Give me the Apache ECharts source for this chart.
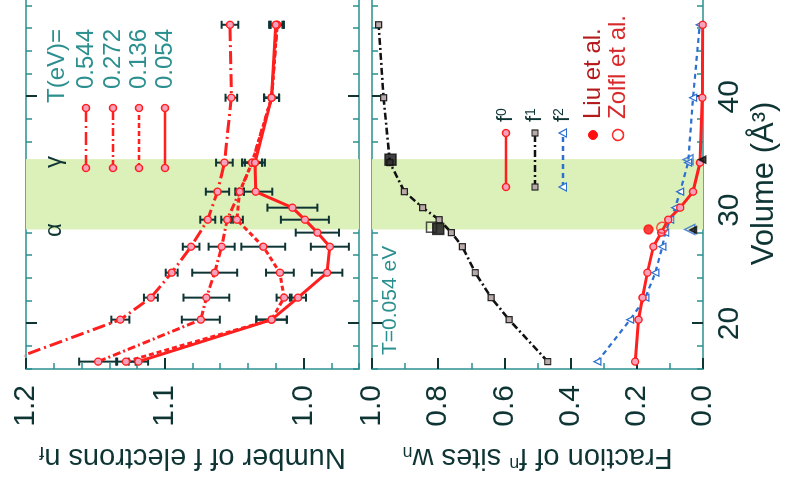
<!DOCTYPE html>
<html>
<head>
<meta charset="utf-8">
<script src="https://cdn.jsdelivr.net/npm/echarts@6/dist/echarts.min.js"></script>
<style>
  html, body { margin: 0; padding: 0; background: #fff; overflow: hidden; width: 789px; height: 485px; }
  /* the figure is laid out upright (485 x 789) and turned a quarter turn counter-clockwise */
  #chart { position: absolute; width: 485px; height: 789px; left: 152px; top: -152px;
           transform: rotate(-90deg); transform-origin: 50% 50%; }
</style>
</head>
<body>
<div id="chart"></div>
<script>
// ---- volumes (Å^3) ----
const volumes      = [16.65, 20.35, 22.29, 24.49, 26.78, 29.16, 31.63, 34.19, 39.91, 46.34];
const volumesLowT  = [16.65, 20.35, 22.29, 24.49, 26.78, 28.02, 29.16, 30.22, 31.63, 34.19, 39.91, 46.34];

// ---- number of f electrons n_f, with error bars ----
const nf544  = [1.214, 1.132, 1.110, 1.095, 1.081, 1.069, 1.062, 1.057, 1.052, 1.053];
const err544 = [0.007, 0.0065, 0.005, 0.0043, 0.006, 0.0054, 0.0084, 0.006, 0.0042, 0.006];
const nf272  = [1.148, 1.074, 1.070, 1.064, 1.059, 1.055, 1.046, 1.037, 1.023, 1.019];
const err272 = [0.0137, 0.0137, 0.0165, 0.0162, 0.0094, 0.0043, 0.003, 0.0072, 0.0054, 0.0048];
const nf136  = [1.128, 1.023, 1.014, 1.017, 1.029, 1.048, 1.046, 1.037, 1.023, 1.019];
const err136 = [0.007, 0.011, 0.0054, 0.010, 0.0158, 0.0043, 0.003, 0.0072, 0.0054, 0.0048];
const nf054  = [1.119, 1.023, 1.004, 0.983, 0.981, 0.990, 0.999, 1.008, 1.0345, 1.035, 1.023, 1.020];
const err054 = [0.007, 0.011, 0.0058, 0.011, 0.0137, 0.0156, 0.0173, 0.018, 0.012, 0.0072, 0.0054, 0.0048];
const tempLabels = ['0.544', '0.272', '0.136', '0.054'];

// ---- fractions of f^n sites at T = 0.054 eV ----
const w0 = [0.205, 0.195, 0.183, 0.168, 0.150, 0.126, 0.105, 0.069, 0.030, 0.009, 0.002, 0.001];
const w1 = [0.469, 0.586, 0.640, 0.688, 0.727, 0.760, 0.797, 0.847, 0.902, 0.946, 0.965, 0.980];
const w2 = [0.319, 0.220, 0.174, 0.144, 0.123, 0.114, 0.099, 0.084, 0.069, 0.045, 0.030, 0.010];

// ---- reference values at the alpha and gamma volumes ----
const liuVol = [28.3];          const liuW0 = [0.165];
const zolflVol = [28.45];       const zolflW0 = [0.123];
const refF1Vol = [28.35, 34.45]; const refF1 = [0.800, 0.944];
const refF1OpenVol = [28.5];    const refF1Open = [0.820];
const refF2Vol = [28.3, 34.45];  const refF2 = [0.040, 0.045];
const refDarkVol = [28.25, 34.45]; const refDark = [0.030, 0.002];

// ---- axes ticks and labels ----
const volMin = 16, volMax = 48.7;
const volMinorTicks = [16,18,20,22,24,26,28,30,32,34,36,38,40,42,44,46,48];
const volMajorTicks = [20, 30, 40];
const nfMin = 0.96, nfMax = 1.2;
const nfMinorTicks = [0.96,0.98,1.00,1.02,1.04,1.06,1.08,1.10,1.12,1.14,1.16,1.18,1.20];
const nfMajorTicks = [1.0, 1.1, 1.2];
const wMinorTicks = [0,0.1,0.2,0.3,0.4,0.5,0.6,0.7,0.8,0.9,1.0];
const wMajorTicks = [0,0.2,0.4,0.6,0.8,1.0];
const bandStart = 28.3, bandEnd = 34.5;

const TEAL = '#2b8f8f', DARK = '#0e3434', RED = '#ff1f1f', PINK = '#f6a2bd', BLUE = '#2c6fd0';
const FONT = '"Liberation Sans", Arial, Helvetica, sans-serif';

const pairs = (xs, ys) => xs.map((x, i) => [x, ys[i]]);
const triples = (xs, ys, es) => xs.map((x, i) => [x, ys[i], es[i]]);

function minorX(grid, pos) {
  return { type: 'value', gridIndex: grid, position: pos, min: volMin, max: volMax,
    axisLine: { show: true, onZero: false, lineStyle: { color: TEAL, width: 1.5 } },
    axisTick: { show: true, inside: true, length: 6, customValues: volMinorTicks, lineStyle: { color: TEAL, width: 1.5 } },
    axisLabel: { show: false }, splitLine: { show: false } };
}
function majorX(grid, pos, withLabels) {
  const ax = { type: 'value', gridIndex: grid, position: pos, min: volMin, max: volMax,
    axisLine: { show: false, onZero: false },
    axisTick: { show: true, inside: true, length: 11, customValues: volMajorTicks, lineStyle: { color: DARK, width: 2 } },
    axisLabel: { show: false }, splitLine: { show: false } };
  if (withLabels) {
    ax.axisLabel = { show: true, customValues: volMajorTicks, fontSize: 30, color: DARK, fontFamily: FONT, margin: 12 };
    ax.name = 'Volume (Å³)';
    ax.nameLocation = 'middle';
    ax.nameGap = 46;
    ax.nameTextStyle = { fontSize: 31, color: DARK, fontFamily: FONT };
  }
  return ax;
}
function minorY(grid, min, max, ticks) {
  return { type: 'value', gridIndex: grid, position: 'left', min, max,
    axisLine: { show: true, onZero: false, lineStyle: { color: TEAL, width: 1.5 } },
    axisTick: { show: true, inside: true, length: 6, customValues: ticks, lineStyle: { color: TEAL, width: 1.5 } },
    axisLabel: { show: false }, splitLine: { show: false } };
}
function majorY(grid, min, max, ticks, name) {
  return { type: 'value', gridIndex: grid, position: 'left', min, max,
    axisLine: { show: false, onZero: false },
    axisTick: { show: true, inside: true, length: 11, customValues: ticks, lineStyle: { color: DARK, width: 2 } },
    axisLabel: { show: true, customValues: ticks, formatter: v => v.toFixed(1), fontSize: 30, color: DARK, fontFamily: FONT, margin: 16 },
    splitLine: { show: false },
    name, nameLocation: 'middle', nameGap: 74,
    nameTextStyle: { fontSize: 29, color: DARK, fontFamily: FONT,
      rich: {
        sub: { fontSize: 18, color: DARK, fontFamily: FONT, verticalAlign: 'bottom', lineHeight: 16 },
        sup: { fontSize: 18, color: DARK, fontFamily: FONT, verticalAlign: 'top', lineHeight: 16 }
      } } };
}

function errorBars(xs, ys, es, xIdx, yIdx) {
  return {
    type: 'custom', xAxisIndex: xIdx, yAxisIndex: yIdx, z: 3, clip: true, silent: true,
    data: triples(xs, ys, es),
    renderItem(params, api) {
      const x = api.value(0), y = api.value(1), e = api.value(2);
      const lo = api.coord([x, y - e]), hi = api.coord([x, y + e]);
      const c = 4, st = { stroke: DARK, lineWidth: 2 };
      return { type: 'group', children: [
        { type: 'line', shape: { x1: lo[0], y1: lo[1], x2: hi[0], y2: hi[1] }, style: st },
        { type: 'line', shape: { x1: lo[0] - c, y1: lo[1], x2: lo[0] + c, y2: lo[1] }, style: st },
        { type: 'line', shape: { x1: hi[0] - c, y1: hi[1], x2: hi[0] + c, y2: hi[1] }, style: st }
      ] };
    }
  };
}

const tempDashes = [[13, 4, 2, 4], [8, 3, 2, 3], [5, 3], 'solid'];
function nfLine(xs, ys, dash) {
  return { type: 'line', xAxisIndex: 0, yAxisIndex: 0, z: 4, clip: true, silent: true,
    data: pairs(xs, ys), symbol: 'circle', symbolSize: 7,
    itemStyle: { color: PINK, borderColor: RED, borderWidth: 1.4 },
    lineStyle: { color: RED, width: 3, type: dash } };
}
function band(xIdx, yIdx) {
  return { type: 'line', xAxisIndex: xIdx, yAxisIndex: yIdx, z: 1, silent: true, data: [],
    markArea: { silent: true, itemStyle: { color: '#dcf1b9' }, data: [[{ xAxis: bandStart }, { xAxis: bandEnd }]] } };
}
function refPoints(xs, ys, symbol, size, fill, stroke) {
  return { type: 'scatter', xAxisIndex: 4, yAxisIndex: 2, z: 6, silent: true,
    data: pairs(xs, ys), symbol, symbolSize: size,
    itemStyle: { color: fill, borderColor: stroke, borderWidth: 1.5 } };
}

// ---- hand-placed legend keys and annotations ----
const graphics = [];
function key(x1, x2, y, dash, stroke, marker) {
  graphics.push({ type: 'polyline', shape: { points: [[x1, y], [x2, y]] },
    style: { stroke, lineWidth: 2.6, lineDash: dash === 'solid' ? null : dash }, z: 10 });
  [x1, x2].forEach(x => graphics.push(marker(x, y)));
}
const circleMark = (x, y) => ({ type: 'circle', shape: { cx: x, cy: y, r: 3.5 }, style: { fill: PINK, stroke: RED, lineWidth: 1.4 }, z: 11 });
const squareMark = (x, y) => ({ type: 'rect', shape: { x: x - 3, y: y - 3, width: 6, height: 6 }, style: { fill: '#b9a9a9', stroke: '#222', lineWidth: 1.2 }, z: 11 });
const triMark = (x, y) => ({ type: 'polygon', shape: { points: [[x, y - 4], [x - 4, y + 3.5], [x + 4, y + 3.5]] }, style: { fill: '#fff', stroke: BLUE, lineWidth: 1.2 }, z: 11 });
function label(text, x, y, size, fill, align, rich) {
  graphics.push({ type: 'text', x, y, z: 12,
    style: { text, font: size + 'px ' + FONT, fill, textAlign: align, textVerticalAlign: 'middle', rich } });
}

// temperature legend
label('T(eV)=', 456, 57, 24, TEAL, 'right');
[86, 113, 139, 165].forEach((y, i) => {
  key(317, 377, y, tempDashes[i], RED, circleMark);
  label(tempLabels[i], 456, y, 24, TEAL, 'right');
});
label('α', 255, 54, 24, DARK, 'center');
label('γ', 323, 54, 24, DARK, 'center');

// site-fraction legend
const supRich = { b: { fontSize: 22, fontFamily: FONT, fill: DARK }, s: { fontSize: 14, fontFamily: FONT, fill: DARK, verticalAlign: 'top', lineHeight: 14 } };
key(298, 352, 506, 'solid', RED, circleMark);
key(298, 352, 535, [7, 3, 2, 3], '#111', squareMark);
key(298, 352, 563, [5, 4], BLUE, triMark);
label('{b|f}{s|0}', 363, 506, 22, DARK, 'left', supRich);
label('{b|f}{s|1}', 363, 535, 22, DARK, 'left', supRich);
label('{b|f}{s|2}', 363, 563, 22, DARK, 'left', supRich);
graphics.push({ type: 'circle', shape: { cx: 350, cy: 593, r: 4.5 }, style: { fill: '#ff1010', stroke: '#ff1010' }, z: 11 });
graphics.push({ type: 'circle', shape: { cx: 350, cy: 618, r: 5.5 }, style: { fill: '#fff', stroke: '#ff2a2a', lineWidth: 1.6 }, z: 11 });
label('Liu et al.', 366, 593, 24, '#b51a1a', 'left');
label('Zolfl et al.', 366, 618, 24, '#d82a2a', 'left');
label('T=0.054 eV', 130, 390, 21, TEAL, 'left');

const option = {
  animation: false,
  backgroundColor: '#ffffff',
  grid: [
    { left: 116, right: -2, top: 26, bottom: 430, outerBoundsMode: 'none' },
    { left: 116, right: -2, top: 372, bottom: 86, outerBoundsMode: 'none' }
  ],
  xAxis: [
    minorX(0, 'bottom'), majorX(0, 'bottom', false), minorX(0, 'top'), majorX(0, 'top', false),
    minorX(1, 'bottom'), majorX(1, 'bottom', true), minorX(1, 'top'), majorX(1, 'top', false)
  ],
  yAxis: [
    minorY(0, nfMin, nfMax, nfMinorTicks),
    majorY(0, nfMin, nfMax, nfMajorTicks, 'Number of f electrons n{sub|f}'),
    minorY(1, 0, 1, wMinorTicks),
    majorY(1, 0, 1, wMajorTicks, 'Fraction of f{sup|n} sites w{sub|n}')
  ],
  graphic: { elements: graphics },
  series: [
    band(0, 0), band(4, 2),
    errorBars(volumes, nf544, err544, 0, 0),
    errorBars(volumes, nf272, err272, 0, 0),
    errorBars(volumes, nf136, err136, 0, 0),
    errorBars(volumesLowT, nf054, err054, 0, 0),
    nfLine(volumes, nf544, tempDashes[0]),
    nfLine(volumes, nf272, tempDashes[1]),
    nfLine(volumes, nf136, tempDashes[2]),
    nfLine(volumesLowT, nf054, tempDashes[3]),
    { type: 'line', xAxisIndex: 4, yAxisIndex: 2, z: 5, silent: true, data: pairs(volumesLowT, w1),
      symbol: 'rect', symbolSize: 6, itemStyle: { color: '#b9a9a9', borderColor: '#222', borderWidth: 1.2 },
      lineStyle: { color: '#111', width: 2.6, type: [7, 3, 2, 3] } },
    { type: 'line', xAxisIndex: 4, yAxisIndex: 2, z: 5, silent: true, data: pairs(volumesLowT, w2),
      symbol: 'triangle', symbolSize: 7, itemStyle: { color: '#ffffff', borderColor: BLUE, borderWidth: 1.2 },
      lineStyle: { color: BLUE, width: 2.2, type: [5, 4] } },
    { type: 'line', xAxisIndex: 4, yAxisIndex: 2, z: 5, silent: true, data: pairs(volumesLowT, w0),
      symbol: 'circle', symbolSize: 7, itemStyle: { color: PINK, borderColor: RED, borderWidth: 1.4 },
      lineStyle: { color: RED, width: 3 } },
    refPoints(refF1Vol, refF1, 'rect', 11, '#111', '#111'),
    refPoints(refF1OpenVol, refF1Open, 'rect', 10, 'rgba(255,255,255,0)', '#222'),
    refPoints(refF2Vol, refF2, 'triangle', 10, 'rgba(255,255,255,0)', BLUE),
    refPoints(refDarkVol, refDark, 'triangle', 7, '#111', '#111'),
    refPoints(liuVol, liuW0, 'circle', 9, '#ff1010', '#ff1010'),
    refPoints(zolflVol, zolflW0, 'circle', 11, 'rgba(255,255,255,0)', '#ff2a2a')
  ]
};

const chart = echarts.init(document.getElementById('chart'), null, { renderer: 'canvas' });
chart.setOption(option);
</script>
</body>
</html>
